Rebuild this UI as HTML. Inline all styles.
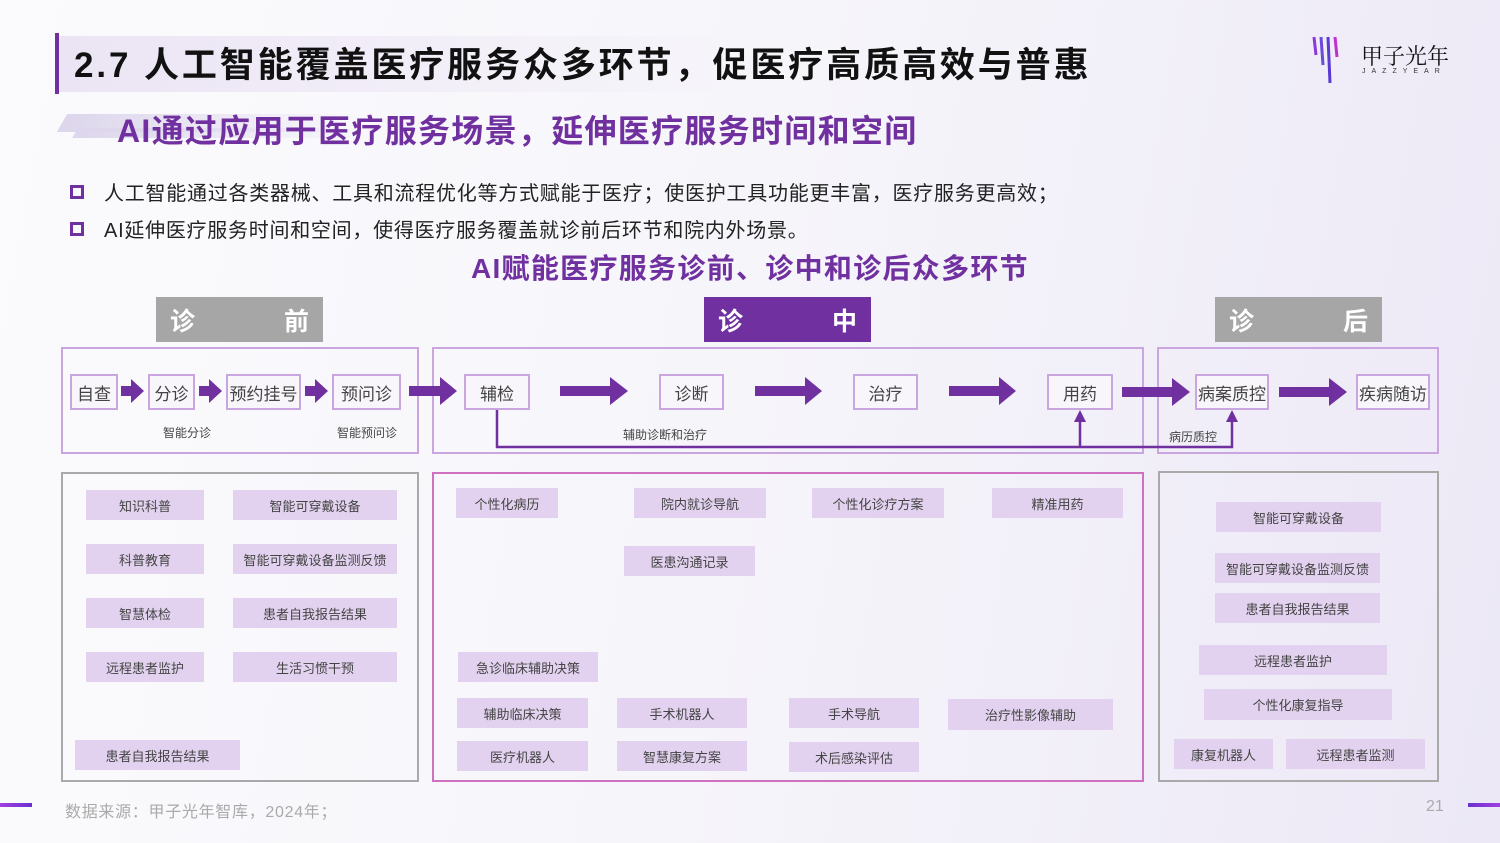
<!DOCTYPE html>
<html><head><meta charset="utf-8"><style>
*{margin:0;padding:0;box-sizing:border-box}
body{width:1500px;height:843px;overflow:hidden;position:relative;font-family:"Liberation Sans","Noto Sans CJK SC",sans-serif;background:linear-gradient(100deg,#fbfbfd 0%,#f6f5fa 50%,#ece8f6 100%);color:#333}
.a{position:absolute}
.chip{position:absolute;background:#e2d2ef;color:#444;font-size:13px;display:flex;align-items:center;justify-content:center;white-space:nowrap}
.node{position:absolute;border:2px solid #c9a6e0;background:#f8f6fb;color:#444;font-size:17px;display:flex;align-items:center;justify-content:center;white-space:nowrap}
.box{position:absolute;border:2px solid #c9a6e0}
.gbox{position:absolute;border:2px solid #a9a9a9}
.hdr{position:absolute;height:45px;color:#fff;font-weight:bold;font-size:25px;display:flex;align-items:center;justify-content:space-between;padding:0 14px}
.lbl{position:absolute;font-size:12px;color:#444;white-space:nowrap}
</style></head><body>
<!-- title -->
<div class="a" style="left:55px;top:33px;width:4px;height:61px;background:#7030a0"></div>
<div class="a" style="left:59px;top:36px;width:700px;height:56px;background:linear-gradient(90deg,#ebe4f4,rgba(240,236,248,0))"></div>
<div class="a" style="left:74px;top:37px;font-size:35px;font-weight:bold;color:#111;white-space:nowrap;letter-spacing:2.9px">2.7 人工智能覆盖医疗服务众多环节，促医疗高质高效与普惠</div>
<div class="a" style="left:62px;top:114px;width:300px;height:18px;background:linear-gradient(90deg,#ddd6ec,rgba(230,225,242,0));transform:skewX(-30deg)"></div>
<div class="a" style="left:75px;top:128px;width:300px;height:10px;background:linear-gradient(90deg,#ddd6ec,rgba(230,225,242,0));transform:skewX(-30deg)"></div>
<div class="a" style="left:117px;top:106px;font-size:32px;font-weight:bold;color:#7030a0;white-space:nowrap;letter-spacing:1.3px">AI通过应用于医疗服务场景，延伸医疗服务时间和空间</div>
<!-- logo -->
<svg class="a" style="left:1310px;top:35px" width="40" height="52"><g stroke-width="3"><line x1="4" y1="2" x2="6" y2="20" stroke="#8a3ad8"/><line x1="11" y1="2" x2="13" y2="30" stroke="#6a4ad8"/><line x1="18" y1="2" x2="20" y2="48" stroke="#5a3ad0"/><line x1="25" y1="2" x2="27" y2="22" stroke="#c030d0"/></g></svg>
<div class="a" style="left:1361px;top:40px;font-size:22px;color:#111;font-family:'Noto Serif CJK SC',serif">甲子光年</div>
<div class="a" style="left:1362px;top:68px;font-size:7px;letter-spacing:6px;color:#333">JAZZYEAR</div>
<!-- bullets -->
<div class="a" style="left:70px;top:185px;width:14px;height:14px;border:3px solid #7030a0"></div>
<div class="a" style="left:104px;top:177px;font-size:20px;color:#222;white-space:nowrap;letter-spacing:0.75px">人工智能通过各类器械、工具和流程优化等方式赋能于医疗；使医护工具功能更丰富，医疗服务更高效；</div>
<div class="a" style="left:70px;top:222px;width:14px;height:14px;border:3px solid #7030a0"></div>
<div class="a" style="left:104px;top:214px;font-size:20px;color:#222;white-space:nowrap;letter-spacing:0.73px">AI延伸医疗服务时间和空间，使得医疗服务覆盖就诊前后环节和院内外场景。</div>
<div class="a" style="left:0;width:1500px;top:247px;text-align:center;font-size:28px;font-weight:bold;color:#7030a0;letter-spacing:1.3px">AI赋能医疗服务诊前、诊中和诊后众多环节</div>
<!-- headers -->
<div class="hdr" style="left:156px;top:297px;width:167px;background:#a6a6a6"><span>诊</span><span>前</span></div>
<div class="hdr" style="left:704px;top:297px;width:167px;background:#7030a0"><span>诊</span><span>中</span></div>
<div class="hdr" style="left:1215px;top:297px;width:167px;background:#a6a6a6"><span>诊</span><span>后</span></div>
<!-- flow boxes -->
<div class="box" style="left:61px;top:347px;width:358px;height:107px"></div>
<div class="box" style="left:432px;top:347px;width:712px;height:107px"></div>
<div class="box" style="left:1157px;top:347px;width:282px;height:107px"></div>
<svg class="a" style="left:0;top:0" width="1500" height="843">
<g fill="#7030a0">
<polygon points="121,386 131,386 131,379 144,391 131,403 131,396 121,396"/>
<polygon points="199,386 209,386 209,379 222,391 209,403 209,396 199,396"/>
<polygon points="305,386 315,386 315,379 328,391 315,403 315,396 305,396"/>
<polygon points="409,386 440,386 440,377 457,391 440,405 440,396 409,396"/>
<polygon points="560,386 610,386 610,377 628,391 610,405 610,396 560,396"/>
<polygon points="755,386 805,386 805,377 822,391 805,405 805,396 755,396"/>
<polygon points="949,386 999,386 999,377 1016,391 999,405 999,396 949,396"/>
<polygon points="1122,387 1172,387 1172,378 1190,392 1172,406 1172,397 1122,397"/>
<polygon points="1279,387 1329,387 1329,378 1347,392 1329,406 1329,397 1279,397"/>
<polygon points="1080,410 1074,422 1086,422"/>
<polygon points="1232,410 1226,422 1238,422"/>
</g>
<polyline points="497,409 497,447 1232,447 1232,420" fill="none" stroke="#7030a0" stroke-width="2.5"/>
<line x1="1080" y1="447" x2="1080" y2="420" stroke="#7030a0" stroke-width="2.5"/>
</svg>
<div class="node" style="left:70px;top:374px;width:48px;height:36px">自查</div>
<div class="node" style="left:148px;top:374px;width:47px;height:36px">分诊</div>
<div class="node" style="left:226px;top:374px;width:75px;height:36px">预约挂号</div>
<div class="node" style="left:332px;top:374px;width:69px;height:36px">预问诊</div>
<div class="node" style="left:464px;top:374px;width:66px;height:36px">辅检</div>
<div class="node" style="left:659px;top:374px;width:65px;height:36px">诊断</div>
<div class="node" style="left:853px;top:374px;width:65px;height:36px">治疗</div>
<div class="node" style="left:1047px;top:374px;width:66px;height:36px">用药</div>
<div class="node" style="left:1195px;top:374px;width:74px;height:36px">病案质控</div>
<div class="node" style="left:1356px;top:374px;width:74px;height:36px">疾病随访</div>
<div class="lbl" style="left:163px;top:424px">智能分诊</div>
<div class="lbl" style="left:337px;top:424px">智能预问诊</div>
<div class="lbl" style="left:623px;top:426px">辅助诊断和治疗</div>
<div class="lbl" style="left:1169px;top:428px">病历质控</div>
<!-- bottom boxes -->
<div class="gbox" style="left:61px;top:472px;width:358px;height:310px"></div>
<div class="a" style="left:432px;top:472px;width:712px;height:310px;border:2px solid #d070c0"></div>
<div class="gbox" style="left:1158px;top:471px;width:281px;height:311px"></div>
<div class="chip" style="left:86px;top:490px;width:118px;height:30px">知识科普</div>
<div class="chip" style="left:233px;top:490px;width:164px;height:30px">智能可穿戴设备</div>
<div class="chip" style="left:86px;top:544px;width:118px;height:30px">科普教育</div>
<div class="chip" style="left:233px;top:544px;width:164px;height:30px">智能可穿戴设备监测反馈</div>
<div class="chip" style="left:86px;top:598px;width:118px;height:30px">智慧体检</div>
<div class="chip" style="left:233px;top:598px;width:164px;height:30px">患者自我报告结果</div>
<div class="chip" style="left:86px;top:652px;width:118px;height:30px">远程患者监护</div>
<div class="chip" style="left:233px;top:652px;width:164px;height:30px">生活习惯干预</div>
<div class="chip" style="left:75px;top:740px;width:165px;height:30px">患者自我报告结果</div>

<div class="chip" style="left:456px;top:488px;width:102px;height:30px">个性化病历</div>
<div class="chip" style="left:634px;top:488px;width:132px;height:30px">院内就诊导航</div>
<div class="chip" style="left:812px;top:488px;width:132px;height:30px">个性化诊疗方案</div>
<div class="chip" style="left:992px;top:488px;width:131px;height:30px">精准用药</div>
<div class="chip" style="left:624px;top:546px;width:131px;height:30px">医患沟通记录</div>
<div class="chip" style="left:458px;top:652px;width:140px;height:30px">急诊临床辅助决策</div>
<div class="chip" style="left:457px;top:698px;width:131px;height:30px">辅助临床决策</div>
<div class="chip" style="left:617px;top:698px;width:130px;height:30px">手术机器人</div>
<div class="chip" style="left:789px;top:698px;width:130px;height:30px">手术导航</div>
<div class="chip" style="left:948px;top:699px;width:165px;height:31px">治疗性影像辅助</div>
<div class="chip" style="left:457px;top:741px;width:131px;height:30px">医疗机器人</div>
<div class="chip" style="left:617px;top:741px;width:130px;height:30px">智慧康复方案</div>
<div class="chip" style="left:789px;top:742px;width:130px;height:30px">术后感染评估</div>

<div class="chip" style="left:1216px;top:502px;width:165px;height:30px">智能可穿戴设备</div>
<div class="chip" style="left:1215px;top:553px;width:165px;height:30px">智能可穿戴设备监测反馈</div>
<div class="chip" style="left:1215px;top:593px;width:165px;height:30px">患者自我报告结果</div>
<div class="chip" style="left:1199px;top:645px;width:188px;height:30px">远程患者监护</div>
<div class="chip" style="left:1204px;top:689px;width:188px;height:31px">个性化康复指导</div>
<div class="chip" style="left:1174px;top:739px;width:99px;height:30px">康复机器人</div>
<div class="chip" style="left:1286px;top:739px;width:139px;height:30px">远程患者监测</div>
<!-- footer -->
<div class="a" style="left:0;top:803px;width:32px;height:4px;background:linear-gradient(90deg,#a040e0,#6a30d0)"></div>
<div class="a" style="left:1468px;top:803px;width:32px;height:4px;background:linear-gradient(90deg,#6a30d0,#a040e0)"></div>
<div class="a" style="left:65px;top:798px;font-size:16px;color:#aaa;white-space:nowrap;letter-spacing:0.7px">数据来源：甲子光年智库，2024年；</div>
<div class="a" style="left:1426px;top:798px;font-size:16px;color:#aaa">21</div>
</body></html>
